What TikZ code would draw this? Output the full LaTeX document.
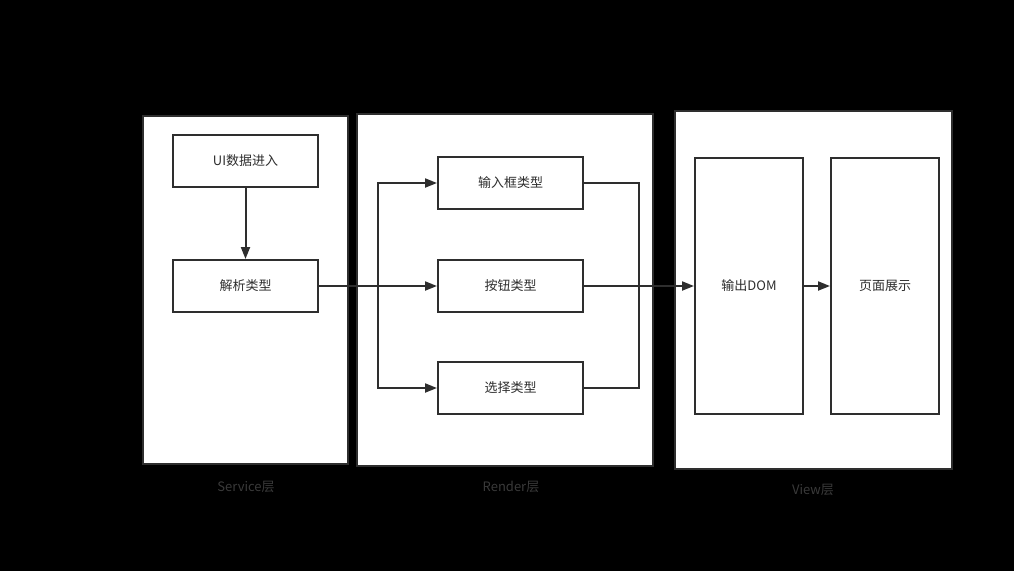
\documentclass[tikz,border=0pt]{standalone}
\usepackage{fontspec}
\setmainfont{Noto Sans CJK SC}
\usetikzlibrary{arrows.meta}
\definecolor{ln}{HTML}{2E2E2E}
\definecolor{lbl}{HTML}{3A3A3A}
\begin{document}
\begin{tikzpicture}[x=1pt,y=-1pt,
  outer/.style={draw=ln,line width=2.2pt,fill=white},
  inner/.style={draw=ln,line width=2pt,fill=white},
  txt/.style={font=\fontsize{13}{15}\selectfont,text=ln},
  lab/.style={font=\fontsize{13}{15}\selectfont,text=lbl},
  conn/.style={draw=ln,line width=2pt},
  arr/.style={conn,-{Triangle[length=12pt,width=9pt]}}]
\fill[black] (0,0) rectangle (1014,571);
\useasboundingbox (0,0) rectangle (1014,571);
% outer boxes
\draw[outer] (143,116) rectangle (348,464);
\draw[outer] (357,114) rectangle (653,466);
\draw[outer] (675,111) rectangle (952,469);
% inner nodes
\node[inner,txt,minimum width=145pt,minimum height=52pt] (ui) at (245.5,161) {UI数据进入};
\node[inner,txt,minimum width=145pt,minimum height=52pt] (jx) at (245.5,286) {解析类型};
\node[inner,txt,minimum width=145pt,minimum height=52pt] (srk) at (510.5,183) {输入框类型};
\node[inner,txt,minimum width=145pt,minimum height=52pt] (an) at (510.5,286) {按钮类型};
\node[inner,txt,minimum width=145pt,minimum height=52pt] (xz) at (510.5,388) {选择类型};
\node[inner,txt,minimum width=108pt,minimum height=256pt] (dom) at (749,286) {输出DOM};
\node[inner,txt,minimum width=108pt,minimum height=256pt] (ym) at (885,286) {页面展示};
% labels
\node[lab] (l1) at (246,487) {Service层};
\node[lab] (l2) at (511,487) {Render层};
\node[lab] (l3) at (813,490) {View层};
% connectors
\coordinate (b) at (378,286);
\draw[arr] (ui) -- (jx);
\draw[arr] (jx) -- (an);
\draw[arr] (b) |- (srk.west);
\draw[arr] (b) |- (xz.west);
\coordinate (m) at (639,286);
\draw[conn] (srk.east) -| (m);
\draw[conn] (xz.east) -| (m);
\draw[arr] (an) -- (dom);
\draw[arr] (dom) -- (ym);
\end{tikzpicture}
\end{document}
